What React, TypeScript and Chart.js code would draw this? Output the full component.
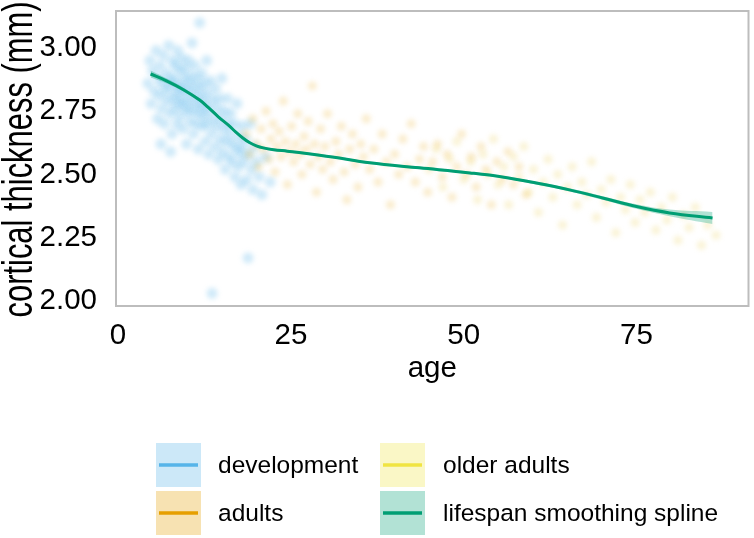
import React, { useEffect, useRef } from "react";
import { Chart, registerables } from "chart.js";
Chart.register(...registerables);

// [age, cortical thickness]
const devPoints: number[][] = [
  [4.3, 2.86], [4.6, 2.95], [4.8, 2.78], [5.0, 2.91], [5.2, 2.83], [5.5, 2.99], [5.7, 2.72], [5.9, 2.88],
  [6.0, 2.81], [6.1, 2.93], [6.2, 2.62], [6.3, 2.76], [6.4, 2.86], [6.6, 2.97], [6.7, 2.70], [6.9, 2.83],
  [7.0, 2.90], [7.1, 2.79], [7.3, 3.01], [7.4, 2.85], [7.5, 2.74], [7.6, 2.59], [7.7, 2.88], [7.8, 2.66],
  [7.9, 2.95], [8.0, 2.80], [8.1, 2.87], [8.2, 2.76], [8.3, 2.93], [8.4, 2.82], [8.5, 2.70], [8.6, 2.99],
  [8.7, 2.85], [8.8, 2.78], [8.9, 2.91], [9.0, 2.73], [9.1, 2.84], [9.2, 2.96], [9.3, 2.80], [9.4, 2.68],
  [9.5, 2.88], [9.6, 2.77], [9.7, 2.92], [9.8, 2.83], [9.9, 2.62], [10.0, 2.75], [10.1, 2.86], [10.2, 2.95],
  [10.3, 2.79], [10.4, 2.71], [10.5, 2.89], [10.6, 2.82], [10.7, 3.02], [10.8, 2.75], [10.9, 2.66], [11.0, 2.85],
  [11.1, 2.93], [11.2, 2.78], [11.3, 2.70], [11.4, 2.88], [11.5, 2.81], [11.6, 2.60], [11.7, 2.74], [11.8, 3.10],
  [11.9, 2.84], [12.0, 2.77], [12.1, 2.90], [12.2, 2.69], [12.3, 2.80], [12.4, 2.73], [12.5, 2.86], [12.6, 2.63],
  [12.7, 2.77], [12.8, 2.95], [12.9, 2.70], [13.0, 2.82], [13.1, 2.58], [13.2, 2.75], [13.4, 2.87], [13.5, 2.66],
  [13.6, 2.03], [13.7, 2.79], [13.8, 2.72], [14.0, 2.61], [14.1, 2.84], [14.2, 2.69], [14.4, 2.76], [14.5, 2.56],
  [14.6, 2.80], [14.8, 2.64], [14.9, 2.72], [15.0, 2.88], [15.1, 2.59], [15.3, 2.68], [15.4, 2.75], [15.5, 2.52],
  [15.7, 2.63], [15.8, 2.80], [15.9, 2.70], [16.0, 2.57], [16.2, 2.66], [16.3, 2.74], [16.5, 2.55], [16.6, 2.62],
  [16.8, 2.70], [16.9, 2.49], [17.1, 2.60], [17.2, 2.78], [17.4, 2.53], [17.5, 2.65], [17.7, 2.58], [17.8, 2.46],
  [17.9, 2.69], [18.0, 2.61], [18.2, 2.55], [18.4, 2.64], [18.6, 2.48], [18.8, 2.17], [18.9, 2.58], [19.1, 2.70],
  [19.3, 2.52], [19.5, 2.44], [19.7, 2.61], [20.0, 2.55], [20.4, 2.49], [20.8, 2.42], [21.3, 2.57], [22.0, 2.47],
];

const adultPoints: number[][] = [
  [18.5, 2.66], [19.0, 2.58], [19.5, 2.72], [20.0, 2.62], [20.3, 2.53], [20.7, 2.68], [21.0, 2.60], [21.4, 2.75],
  [21.8, 2.56], [22.1, 2.64], [22.4, 2.70], [22.7, 2.51], [23.0, 2.61], [23.3, 2.67], [23.6, 2.57], [23.9, 2.79],
  [24.2, 2.63], [24.5, 2.46], [24.8, 2.59], [25.1, 2.69], [25.4, 2.55], [25.7, 2.62], [26.0, 2.74], [26.3, 2.58],
  [26.6, 2.50], [26.9, 2.65], [27.2, 2.60], [27.5, 2.71], [27.8, 2.54], [28.1, 2.85], [28.4, 2.62], [28.7, 2.43],
  [29.0, 2.57], [29.3, 2.68], [29.6, 2.52], [29.9, 2.61], [30.3, 2.74], [30.7, 2.55], [31.1, 2.48], [31.5, 2.63],
  [31.9, 2.58], [32.3, 2.69], [32.7, 2.51], [33.1, 2.40], [33.5, 2.60], [33.9, 2.66], [34.3, 2.54], [34.7, 2.45],
  [35.1, 2.62], [35.5, 2.57], [35.9, 2.72], [36.4, 2.52], [37.0, 2.60], [37.6, 2.47], [38.2, 2.66], [38.8, 2.55],
  [39.4, 2.38], [40.0, 2.58], [40.6, 2.50], [41.2, 2.64], [41.8, 2.53], [42.4, 2.70], [43.0, 2.47], [43.6, 2.56],
  [44.2, 2.61], [44.8, 2.43], [45.5, 2.55], [46.2, 2.62], [46.9, 2.49], [47.6, 2.58], [48.3, 2.41], [49.0, 2.53],
  [49.7, 2.66], [50.4, 2.50], [51.1, 2.57], [51.8, 2.45], [52.5, 2.61], [53.2, 2.52], [54.0, 2.38], [54.8, 2.55],
  [55.6, 2.48], [56.4, 2.59], [57.2, 2.46], [58.0, 2.53], [59.0, 2.42],
];

const olderPoints: number[][] = [
  [45.0, 2.52], [46.0, 2.60], [47.0, 2.45], [48.0, 2.56], [49.0, 2.63], [50.0, 2.48], [51.0, 2.55], [52.0, 2.40],
  [52.8, 2.58], [53.5, 2.50], [54.3, 2.64], [55.0, 2.46], [55.8, 2.53], [56.5, 2.38], [57.2, 2.57], [58.0, 2.49],
  [58.7, 2.61], [59.4, 2.43], [60.1, 2.52], [60.8, 2.35], [61.5, 2.47], [62.2, 2.56], [62.9, 2.41], [63.6, 2.50],
  [64.3, 2.30], [65.0, 2.45], [65.7, 2.53], [66.4, 2.38], [67.1, 2.47], [67.8, 2.42], [68.5, 2.55], [69.2, 2.33],
  [69.9, 2.44], [70.6, 2.39], [71.3, 2.48], [72.0, 2.27], [72.7, 2.41], [73.4, 2.36], [74.1, 2.46], [74.8, 2.31],
  [75.5, 2.40], [76.2, 2.35], [77.0, 2.43], [77.8, 2.28], [78.6, 2.37], [79.4, 2.32], [80.2, 2.41], [81.0, 2.24],
  [81.8, 2.34], [82.6, 2.29], [83.5, 2.37], [84.4, 2.22], [85.3, 2.30], [86.5, 2.26],
];

const splineAge = [4.7, 7, 9.4, 11.8, 13, 14.5, 16, 17, 18, 19, 20, 21, 22.5, 24.5, 27, 31, 36.4, 43.6, 50.9, 55.6, 60.5, 65.3, 70.1, 75, 79.8, 86];
const splineThk = [2.897, 2.870, 2.836, 2.794, 2.766, 2.728, 2.694, 2.668, 2.645, 2.626, 2.613, 2.605, 2.598, 2.592, 2.584, 2.569, 2.546, 2.526, 2.506, 2.490, 2.466, 2.439, 2.407, 2.373, 2.348, 2.328];
const bandHalf = [0.014, 0.01, 0.008, 0.007, 0.007, 0.006, 0.006, 0.006, 0.005, 0.005, 0.005, 0.005, 0.005, 0.005, 0.005, 0.005, 0.005, 0.005, 0.005, 0.005, 0.006, 0.006, 0.007, 0.009, 0.013, 0.024];

const xTickValues = [0, 25, 50, 75];
const yTickValues = [2.0, 2.25, 2.5, 2.75, 3.0];

const legendLabels = ["development", "adults", "older adults", "lifespan smoothing spline"];
const legendLine = ["#56B4E9", "#E69F00", "#F0E442", "#009E73"];
const legendFill = ["#cce8f8", "#f7e2b2", "#faf7c6", "#b2e2d5"];

const FONT = "'Liberation Sans', Arial, Helvetica, sans-serif";

const framePlugin = {
  id: "frame",
  afterDatasetsDraw(chart: any) {
    const { ctx, chartArea: a } = chart;
    ctx.save();
    ctx.strokeStyle = "#bdbdbd";
    ctx.lineWidth = 2;
    ctx.strokeRect(a.left, a.top, a.right - a.left, a.bottom - a.top);
    ctx.restore();
  },
};

// soften the scatter clouds so they read like dense point clouds
const softPlugin = {
  id: "softScatter",
  beforeDatasetDraw(chart: any, args: any) {
    if (args.index >= 3) {
      chart.ctx.save();
      chart.ctx.filter = "blur(2.5px)";
    }
  },
  afterDatasetDraw(chart: any, args: any) {
    if (args.index >= 3) chart.ctx.restore();
  },
};

const yTitlePlugin = {
  id: "yTitle",
  afterDraw(chart: any) {
    const { ctx, chartArea: a } = chart;
    const text = "cortical thickness (mm)";
    ctx.save();
    ctx.font = `42px ${FONT}`;
    const w = ctx.measureText(text).width;
    const sx = 316 / w;
    ctx.translate(32, (a.top + a.bottom) / 2 + 1);
    ctx.rotate(-Math.PI / 2);
    ctx.scale(sx, 1);
    ctx.fillStyle = "#000";
    ctx.textAlign = "center";
    ctx.textBaseline = "alphabetic";
    ctx.fillText(text, 0, 0);
    ctx.restore();
  },
};

const legendPlugin = {
  id: "customLegend",
  afterDraw(chart: any) {
    const { ctx } = chart;
    const colX = [156, 380];
    const textX = [218, 443];
    const rowY = [465, 513];
    const bw = 45;
    const bh = 44;
    ctx.save();
    ctx.font = `24.5px ${FONT}`;
    ctx.textBaseline = "middle";
    ctx.textAlign = "left";
    legendLabels.forEach((label, i) => {
      const col = i < 2 ? 0 : 1;
      const row = i % 2;
      const x = colX[col];
      const cy = rowY[row];
      ctx.fillStyle = legendFill[i];
      ctx.fillRect(x, cy - bh / 2, bw, bh);
      ctx.strokeStyle = legendLine[i];
      ctx.lineWidth = 3.5;
      ctx.beginPath();
      ctx.moveTo(x + 3, cy);
      ctx.lineTo(x + bw - 3, cy);
      ctx.stroke();
      ctx.fillStyle = "#000";
      ctx.fillText(label, textX[col], cy + 1);
    });
    ctx.restore();
  },
};

const toPts = (arr: number[][]) => arr.map((p) => ({ x: p[0], y: p[1] }));

export default function App() {
  const ref = useRef<HTMLCanvasElement>(null);
  useEffect(() => {
    const canvas = ref.current;
    if (!canvas) return;
    const splinePts = splineAge.map((x, i) => ({ x, y: splineThk[i] }));
    const upperPts = splineAge.map((x, i) => ({ x, y: splineThk[i] + bandHalf[i] }));
    const lowerPts = splineAge.map((x, i) => ({ x, y: splineThk[i] - bandHalf[i] }));
    const chart = new Chart(canvas, {
      type: "scatter",
      data: {
        datasets: [
          {
            label: "lifespan smoothing spline",
            data: splinePts,
            showLine: true,
            borderColor: "#009E73",
            borderWidth: 3,
            pointRadius: 0,
            tension: 0.4,
            fill: false,
          } as any,
          {
            label: "band upper",
            data: upperPts,
            showLine: true,
            borderWidth: 0,
            borderColor: "rgba(0,0,0,0)",
            pointRadius: 0,
            tension: 0.4,
            fill: false,
          } as any,
          {
            label: "band lower",
            data: lowerPts,
            showLine: true,
            borderWidth: 0,
            borderColor: "rgba(0,0,0,0)",
            pointRadius: 0,
            tension: 0.4,
            fill: "-1",
            backgroundColor: "rgba(0,158,115,0.3)",
          } as any,
          {
            label: "older adults",
            data: toPts(olderPoints),
            pointRadius: 4.5,
            borderWidth: 0,
            backgroundColor: "rgba(236,205,80,0.24)",
          },
          {
            label: "adults",
            data: toPts(adultPoints),
            pointRadius: 4.5,
            borderWidth: 0,
            backgroundColor: "rgba(230,159,0,0.2)",
          },
          {
            label: "development",
            data: toPts(devPoints),
            pointRadius: 5.5,
            borderWidth: 0,
            backgroundColor: "rgba(86,180,233,0.28)",
          },
        ],
      },
      options: {
        responsive: false,
        animation: false,
        devicePixelRatio: 1,
        layout: { padding: { top: 11, right: 5, bottom: 151, left: 0 } },
        plugins: {
          legend: { display: false },
          tooltip: { enabled: false },
        },
        scales: {
          x: {
            type: "linear",
            min: -0.3,
            max: 91.2,
            grid: { display: false, drawTicks: false },
            border: { display: false },
            afterBuildTicks: (scale: any) => {
              scale.ticks = xTickValues.map((v) => ({ value: v }));
            },
            afterFit: (scale: any) => {
              scale.height = 81;
              scale.paddingLeft = 0;
              scale.paddingRight = 0;
            },
            ticks: {
              padding: 12,
              color: "#000",
              font: { family: FONT, size: 29.5 },
              callback: (v: any) => String(v),
            },
            title: {
              display: true,
              text: "age",
              color: "#000",
              font: { family: FONT, size: 29.5 },
              padding: { top: 0, bottom: 0 },
            },
          },
          y: {
            type: "linear",
            min: 1.98,
            max: 3.146,
            grid: { display: false, drawTicks: false },
            border: { display: false },
            afterBuildTicks: (scale: any) => {
              scale.ticks = yTickValues.map((v) => ({ value: v }));
            },
            afterFit: (scale: any) => {
              scale.width = 116;
              scale.paddingTop = 0;
              scale.paddingBottom = 0;
            },
            ticks: {
              padding: 19,
              color: "#000",
              font: { family: FONT, size: 29.5 },
              callback: (v: any) => Number(v).toFixed(2),
            },
          },
        },
      } as any,
      plugins: [softPlugin, framePlugin, yTitlePlugin, legendPlugin],
    });
    return () => chart.destroy();
  }, []);
  return (
    <div style={{ position: "absolute", left: 0, top: 0, width: 754, height: 538, background: "#fff" }}>
      <canvas ref={ref} width={754} height={538} style={{ width: 754, height: 538, display: "block" }} />
    </div>
  );
}
